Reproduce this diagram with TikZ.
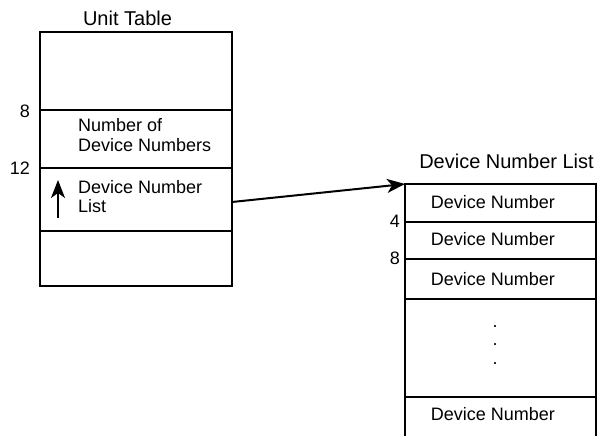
\documentclass[tikz,border=0pt]{standalone}
\usepackage{fontspec}
\setmainfont{Liberation Sans}
\usetikzlibrary{arrows.meta, positioning}

\begin{document}
\begin{tikzpicture}[x=1pt,y=-1pt]
    \useasboundingbox (0,0) rectangle (603,436);
    \tikzset{
      cell/.style={rectangle,draw,line width=2pt,minimum width=192pt,inner sep=0pt,outer sep=0pt},
      txt/.style={font=\fontsize{18}{19.5}\selectfont,inner sep=0pt,align=left},
      ttl/.style={font=\fontsize{20}{22}\selectfont,inner sep=0pt},
      off/.style={font=\fontsize{18}{20}\selectfont,inner sep=0pt,anchor=east},
      ptr/.style={line width=2pt,-{Stealth[length=18pt,width=14pt,inset=5pt]}}
    }
    % Unit Table
    \node[ttl,anchor=base](utitle)at(127.5,26){Unit Table};
    \node[cell,minimum height=78pt](u1)at(136,71){};
    \node[cell,minimum height=58pt](u2)at(136,139){};
    \node[cell,minimum height=63pt](u3)at(136,199.5){};
    \node[cell,minimum height=55pt](u4)at(136,258.5){};
    \node[txt,anchor=north west](ncount)at(78,118.6){Number of\\Device Numbers};
    \node[txt,anchor=north west](nlist)at(78,180){Device Number\\List};
    \node[off](o8)at(30,111){8};
    \node[off](o12)at(30,168.5){12};
    \coordinate(utail)at(58,218);
    \coordinate(uhead)at(58,180);
    \draw[ptr](utail)--(uhead);
    % Device Number List
    \node[ttl,anchor=base](dtitle)at(506.5,168){Device Number List};
    \node[cell,minimum width=191pt,minimum height=37.7pt](d1)at(500.5,202.85){};
    \node[cell,minimum width=191pt,minimum height=37.3pt](d2)at(500.5,240.35){};
    \node[cell,minimum width=191pt,minimum height=40pt](d3)at(500.5,279){};
    \node[cell,minimum width=191pt,minimum height=97.7pt](d4)at(500.5,347.85){};
    \draw[line width=2pt](d4.south west)--++(0,42);
    \draw[line width=2pt](d4.south east)--++(0,42);
    \node[txt,anchor=base](dn1)at(493,208){Device Number};
    \node[txt,anchor=base](dn2)at(493,245){Device Number};
    \node[txt,anchor=base](dn3)at(493,285){Device Number};
    \node[txt,anchor=base](dn4)at(493,420){Device Number};
    \node[font=\fontsize{18}{18.2}\selectfont,inner sep=0pt,align=center](dots)at(495,345){.\\.\\.};
    \node[off](o4)at(400,221.5){4};
    \node[off](o8b)at(400,258.5){8};
    % pointer
    \draw[ptr]([yshift=-2.5pt]u3.east)--(d1.north west);
\end{tikzpicture}
\end{document}
